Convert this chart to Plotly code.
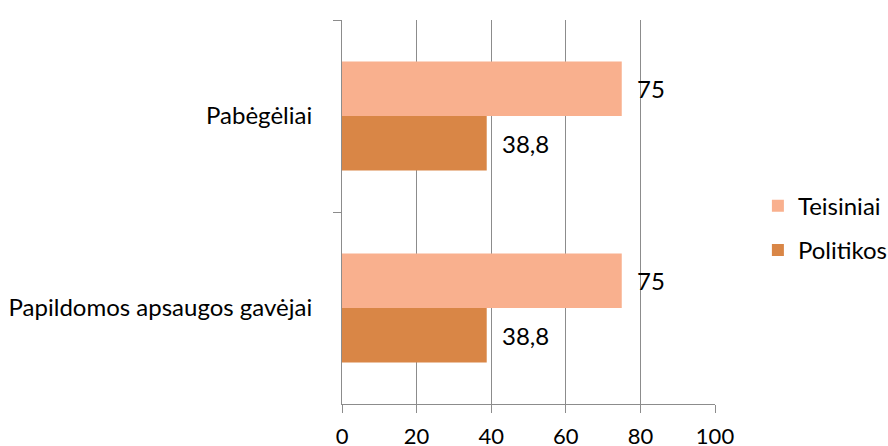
import plotly.graph_objects as go

categories = ["Pabėgėliai", "Papildomos apsaugos gavėjai"]
series_names = ["Teisiniai", "Politikos"]
teisiniai = [75, 75]
politikos = [38.8, 38.8]
x_ticks = [0, 20, 40, 60, 80, 100]
colors = ["#F9B08E", "#D98646"]

def fmt(v):
    s = ("%g" % v).replace(".", ",")
    return "  " + s

FONT = "Lato"

fig = go.Figure()
for i, (name, vals) in enumerate(zip(series_names, [teisiniai, politikos])):
    fig.add_trace(go.Bar(
        y=categories, x=vals, name=name, orientation="h",
        marker=dict(color=colors[i], line=dict(width=0)),
        text=[fmt(v) for v in vals], textposition="outside",
        textfont=dict(family=FONT, size=24, color="#000000"),
        cliponaxis=False, legendgroup=name,
    ))

fig.update_layout(
    width=888, height=446,
    margin=dict(l=342, r=173, t=20, b=42, autoexpand=False),
    paper_bgcolor="white", plot_bgcolor="white",
    barmode="group", bargap=0.432, bargroupgap=0,
    font=dict(family=FONT, size=24, color="#000000"),
    showlegend=True,
    legend=dict(x=1.115, xanchor="left", y=0.458, yanchor="middle",
                font=dict(family=FONT, size=24), tracegroupgap=10,
                itemwidth=30, bgcolor="rgba(0,0,0,0)"),
    xaxis=dict(range=[0, 100], tickvals=x_ticks, ticktext=[str(t) for t in x_ticks],
               showgrid=True, gridcolor="#8C8C8C", gridwidth=1,
               showline=True, linecolor="#8C8C8C", linewidth=1,
               ticks="outside", ticklen=8, tickcolor="#8C8C8C",
               tickfont=dict(family=FONT, size=22), zeroline=False,
               ticklabelstandoff=5, automargin=False, fixedrange=True),
    yaxis=dict(autorange="reversed", type="category", tickson="boundaries",
               showgrid=False, showline=True, linecolor="#8C8C8C", linewidth=1,
               ticks="outside", ticklen=8, tickcolor="#8C8C8C",
               tickfont=dict(family=FONT, size=24),
               ticklabelstandoff=24, automargin=False, fixedrange=True),
)

fig.write_html("out.html",
               config={"displayModeBar": False, "staticPlot": True},
               post_script="document.body.style.margin='0px';document.body.style.overflow='hidden';")
